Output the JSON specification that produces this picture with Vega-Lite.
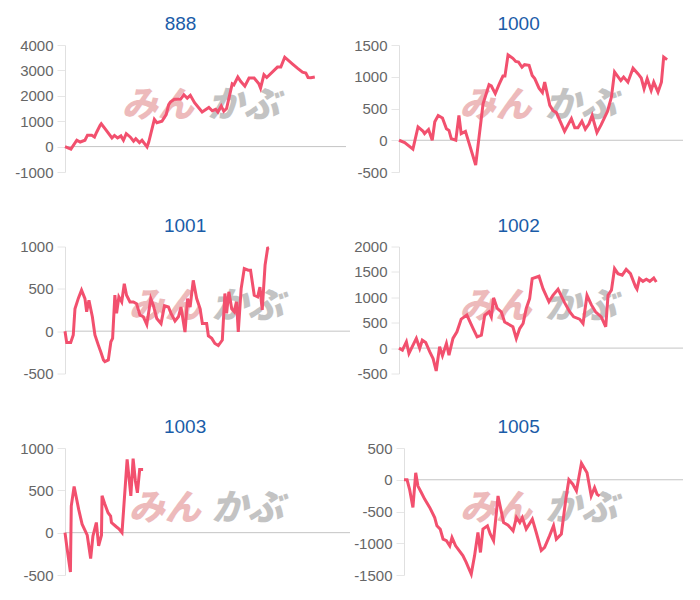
{
  "$schema": "https://vega.github.io/schema/vega-lite/v6.json",
  "padding": {"left": 14, "top": 15, "right": 5, "bottom": 5},
  "background": "white",
  "config": {
    "view": {"stroke": null},
    "font": "Liberation Sans",
    "title": {"fontSize": 19, "fontWeight": "normal", "color": "#1a5ca8", "font": "Liberation Sans", "offset": 4, "frame": "bounds", "anchor": "middle"},
    "axisY": {
      "gridColor": "#e6e6e6", "domainColor": "#e0e0e0", "tickColor": "#e6e6e6", "tickSize": 8,
      "labelColor": "#666666", "labelFontSize": 15, "labelFont": "Liberation Sans", "labelPadding": 4,
      "labelExpr": "toString(datum.value)"
    }
  },
  "datasets": {
    "s888": [
      {"t":0,"v":0},{"t":2.1,"v":-100},{"t":4.2,"v":250},{"t":5.4,"v":180},{"t":7.1,"v":250},{"t":8.0,"v":450},{"t":9.5,"v":450},{"t":10.5,"v":380},{"t":11.3,"v":575},{"t":12.5,"v":840},{"t":12.9,"v":900},{"t":14.3,"v":700},{"t":16.7,"v":340},{"t":17.6,"v":440},{"t":18.7,"v":340},{"t":19.9,"v":420},{"t":20.8,"v":250},{"t":21.8,"v":510},{"t":23.2,"v":380},{"t":24.4,"v":210},{"t":25.2,"v":310},{"t":26.5,"v":160},{"t":27.4,"v":250},{"t":29.2,"v":-10},{"t":29.8,"v":180},{"t":31.8,"v":1070},{"t":32.7,"v":940},{"t":34.5,"v":1000},{"t":36.0,"v":1260},{"t":36.9,"v":1650},{"t":37.5,"v":1750},{"t":38.9,"v":1860},{"t":41.1,"v":1860},{"t":42.3,"v":2040},{"t":43.5,"v":1910},{"t":44.6,"v":2020},{"t":46.1,"v":1730},{"t":48.8,"v":1360},{"t":51.2,"v":1540},{"t":52.4,"v":1410},{"t":53.6,"v":1470},{"t":54.4,"v":1360},{"t":55.6,"v":1600},{"t":56.5,"v":1390},{"t":57.5,"v":1500},{"t":59.5,"v":2470},{"t":60.1,"v":2430},{"t":61.5,"v":2740},{"t":62.5,"v":2570},{"t":64.0,"v":2380},{"t":65.5,"v":2700},{"t":67.3,"v":2700},{"t":69.0,"v":2470},{"t":69.6,"v":2300},{"t":70.8,"v":2830},{"t":71.8,"v":2720},{"t":75.6,"v":3130},{"t":76.8,"v":3130},{"t":78.2,"v":3520},{"t":81.0,"v":3250},{"t":82.7,"v":3090},{"t":84.5,"v":2930},{"t":85.7,"v":2900},{"t":86.5,"v":2720},{"t":87.5,"v":2710},{"t":88.9,"v":2740}
    ],
    "s1000": [
      {"t":0,"v":0},{"t":2.0,"v":-37},{"t":4.9,"v":-140},{"t":6.7,"v":210},{"t":8.5,"v":140},{"t":9.0,"v":105},{"t":10.4,"v":170},{"t":11.7,"v":0},{"t":12.6,"v":290},{"t":13.8,"v":390},{"t":15.3,"v":350},{"t":16.7,"v":180},{"t":17.6,"v":155},{"t":18.4,"v":25},{"t":20.0,"v":0},{"t":21.1,"v":390},{"t":21.9,"v":105},{"t":23.4,"v":140},{"t":27.0,"v":-390},{"t":29.6,"v":575},{"t":31.7,"v":875},{"t":32.5,"v":855},{"t":33.9,"v":735},{"t":35.2,"v":875},{"t":36.6,"v":1010},{"t":37.3,"v":1010},{"t":38.4,"v":1345},{"t":40.1,"v":1290},{"t":41.1,"v":1240},{"t":42.1,"v":1230},{"t":43.3,"v":1150},{"t":44.2,"v":1190},{"t":45.8,"v":1180},{"t":46.9,"v":1020},{"t":47.8,"v":970},{"t":49.3,"v":820},{"t":50.5,"v":750},{"t":51.3,"v":915},{"t":53.1,"v":550},{"t":54.2,"v":470},{"t":55.4,"v":435},{"t":58.3,"v":140},{"t":60.7,"v":340},{"t":61.9,"v":195},{"t":63.0,"v":195},{"t":64.4,"v":300},{"t":65.6,"v":175},{"t":66.9,"v":260},{"t":68.0,"v":390},{"t":69.7,"v":120},{"t":71.2,"v":245},{"t":73.4,"v":455},{"t":74.8,"v":680},{"t":75.9,"v":1075},{"t":78.1,"v":940},{"t":79.1,"v":995},{"t":80.6,"v":915},{"t":82.4,"v":1135},{"t":84.2,"v":1045},{"t":85.3,"v":980},{"t":86.3,"v":810},{"t":87.4,"v":970},{"t":88.8,"v":785},{"t":89.7,"v":915},{"t":91.2,"v":760},{"t":92.4,"v":915},{"t":93.2,"v":1310},{"t":94.4,"v":1270}
    ],
    "s1001": [
      {"t":0,"v":0},{"t":0.6,"v":-135},{"t":2.0,"v":-135},{"t":2.9,"v":-45},{"t":3.5,"v":265},{"t":4.7,"v":390},{"t":5.8,"v":485},{"t":7.0,"v":385},{"t":7.6,"v":230},{"t":8.4,"v":365},{"t":9.6,"v":170},{"t":10.5,"v":-45},{"t":11.7,"v":-165},{"t":12.6,"v":-250},{"t":13.5,"v":-340},{"t":14.0,"v":-360},{"t":15.2,"v":-340},{"t":16.1,"v":-125},{"t":16.7,"v":-85},{"t":17.5,"v":425},{"t":18.1,"v":210},{"t":18.9,"v":405},{"t":19.9,"v":345},{"t":20.8,"v":560},{"t":21.6,"v":425},{"t":22.8,"v":345},{"t":24.0,"v":345},{"t":25.1,"v":325},{"t":26.3,"v":190},{"t":27.5,"v":170},{"t":28.7,"v":80},{"t":30.1,"v":385},{"t":31.0,"v":305},{"t":32.2,"v":150},{"t":33.7,"v":90},{"t":34.9,"v":300},{"t":36.3,"v":285},{"t":37.2,"v":210},{"t":38.6,"v":120},{"t":39.8,"v":170},{"t":40.7,"v":285},{"t":42.1,"v":-10},{"t":43.0,"v":385},{"t":43.9,"v":285},{"t":45.0,"v":600},{"t":46.2,"v":385},{"t":47.4,"v":265},{"t":48.2,"v":90},{"t":49.7,"v":90},{"t":50.3,"v":-55},{"t":51.5,"v":-85},{"t":52.6,"v":-145},{"t":53.8,"v":-170},{"t":55.2,"v":-105},{"t":56.1,"v":445},{"t":56.7,"v":210},{"t":57.5,"v":465},{"t":58.5,"v":265},{"t":59.4,"v":230},{"t":60.2,"v":345},{"t":60.8,"v":-10},{"t":61.8,"v":500},{"t":62.9,"v":740},{"t":64.3,"v":720},{"t":65.1,"v":720},{"t":66.4,"v":425},{"t":67.6,"v":405},{"t":68.4,"v":520},{"t":69.2,"v":250},{"t":70.2,"v":780},{"t":71.1,"v":980},{"t":71.6,"v":985}
    ],
    "s1002": [
      {"t":0,"v":0},{"t":1.2,"v":-40},{"t":2.6,"v":125},{"t":3.5,"v":-105},{"t":6.1,"v":190},{"t":7.3,"v":-5},{"t":8.2,"v":155},{"t":9.4,"v":110},{"t":10.8,"v":-70},{"t":12.0,"v":-205},{"t":13.1,"v":-450},{"t":14.3,"v":25},{"t":15.3,"v":-150},{"t":16.7,"v":90},{"t":17.6,"v":-140},{"t":19.0,"v":190},{"t":20.4,"v":320},{"t":21.9,"v":570},{"t":23.9,"v":650},{"t":26.1,"v":385},{"t":27.5,"v":220},{"t":29.0,"v":255},{"t":30.2,"v":650},{"t":31.7,"v":715},{"t":32.5,"v":615},{"t":33.3,"v":990},{"t":34.6,"v":780},{"t":36.0,"v":715},{"t":37.2,"v":515},{"t":40.1,"v":420},{"t":41.3,"v":190},{"t":42.5,"v":385},{"t":43.7,"v":485},{"t":44.8,"v":780},{"t":46.0,"v":975},{"t":46.9,"v":1370},{"t":49.3,"v":1415},{"t":50.7,"v":1170},{"t":52.8,"v":910},{"t":54.2,"v":1040},{"t":56.0,"v":1160},{"t":58.3,"v":895},{"t":60.1,"v":715},{"t":61.5,"v":615},{"t":63.6,"v":570},{"t":64.8,"v":485},{"t":66.2,"v":1040},{"t":67.7,"v":855},{"t":69.2,"v":715},{"t":71.2,"v":615},{"t":72.8,"v":420},{"t":73.6,"v":1040},{"t":74.8,"v":1140},{"t":75.9,"v":1565},{"t":77.1,"v":1465},{"t":78.6,"v":1435},{"t":80.0,"v":1550},{"t":81.5,"v":1465},{"t":83.3,"v":1205},{"t":83.8,"v":1160},{"t":84.7,"v":1370},{"t":85.9,"v":1315},{"t":87.1,"v":1355},{"t":88.3,"v":1315},{"t":89.7,"v":1380},{"t":90.6,"v":1300}
    ],
    "s1003": [
      {"t":0,"v":0},{"t":0.6,"v":-155},{"t":1.9,"v":-465},{"t":2.2,"v":315},{"t":3.2,"v":545},{"t":4.8,"v":275},{"t":6.0,"v":100},{"t":7.8,"v":-30},{"t":9.0,"v":-305},{"t":9.8,"v":-40},{"t":11.0,"v":120},{"t":11.8,"v":-155},{"t":12.8,"v":-30},{"t":13.0,"v":435},{"t":13.9,"v":345},{"t":15.1,"v":235},{"t":16.0,"v":195},{"t":16.3,"v":120},{"t":18.0,"v":70},{"t":18.9,"v":45},{"t":20.0,"v":0},{"t":21.8,"v":865},{"t":23.1,"v":435},{"t":23.9,"v":875},{"t":24.7,"v":610},{"t":25.4,"v":470},{"t":26.2,"v":745},{"t":27.4,"v":745}
    ],
    "s1005": [
      {"t":0,"v":0},{"t":1.1,"v":0},{"t":2.0,"v":-150},{"t":3.2,"v":-435},{"t":4.2,"v":110},{"t":5.0,"v":-100},{"t":6.2,"v":-200},{"t":7.4,"v":-305},{"t":9.2,"v":-435},{"t":11.0,"v":-595},{"t":11.8,"v":-725},{"t":13.0,"v":-780},{"t":14.0,"v":-935},{"t":15.2,"v":-960},{"t":16.4,"v":-1040},{"t":17.2,"v":-910},{"t":18.5,"v":-1040},{"t":21.1,"v":-1195},{"t":22.3,"v":-1300},{"t":23.3,"v":-1405},{"t":24.1,"v":-1485},{"t":25.3,"v":-1195},{"t":26.5,"v":-830},{"t":27.4,"v":-1145},{"t":28.3,"v":-775},{"t":29.9,"v":-725},{"t":30.9,"v":-855},{"t":32.1,"v":-960},{"t":33.7,"v":-255},{"t":35.7,"v":-675},{"t":37.3,"v":-715},{"t":39.1,"v":-805},{"t":40.3,"v":-595},{"t":41.5,"v":-675},{"t":42.4,"v":-595},{"t":43.8,"v":-775},{"t":46.0,"v":-620},{"t":47.4,"v":-830},{"t":49.2,"v":-1115},{"t":50.4,"v":-1065},{"t":52.2,"v":-880},{"t":53.6,"v":-725},{"t":54.6,"v":-935},{"t":56.4,"v":-855},{"t":58.0,"v":-305},{"t":59.1,"v":0},{"t":60.5,"v":-70},{"t":61.8,"v":-175},{"t":63.6,"v":260},{"t":65.6,"v":110},{"t":67.1,"v":-255},{"t":68.3,"v":-125},{"t":69.2,"v":-230},{"t":70.1,"v":-255}
    ]
  },
  "columns": 2,
  "align": "none",
  "spacing": {"row": 36.5, "column": 2},
  "concat": [
    {
      "title": "888", "width": 281, "height": 127,
      "layer": [
        {"data": {"values": [{}]}, "mark": {"type": "rule", "color": "#c4c4c4"}, "encoding": {"y": {"datum": 0, "type": "quantitative", "scale": {"domain": [-1000, 4000], "nice": false}, "axis": {"values": [-1000, 0, 1000, 2000, 3000, 4000], "title": null}}}},
        {"data": {"values": [{}]}, "mark": {"type": "text", "text": "みん", "font": "Noto Sans CJK JP", "fontSize": 36, "fontWeight": 900, "fontStyle": "italic", "color": "#e9a9ab", "opacity": 0.8}, "encoding": {"x": {"datum": 33, "type": "quantitative", "scale": {"domain": [0, 100]}, "axis": null}, "y": {"datum": 1600, "type": "quantitative", "scale": {"domain": [-1000, 4000], "nice": false}, "axis": {"values": [-1000, 0, 1000, 2000, 3000, 4000], "title": null}}}},
        {"data": {"values": [{}]}, "mark": {"type": "text", "text": "かぶ", "font": "Noto Sans CJK JP", "fontSize": 36, "fontWeight": 900, "fontStyle": "italic", "color": "#b5b5b5", "opacity": 0.8}, "encoding": {"x": {"datum": 63.5, "type": "quantitative", "scale": {"domain": [0, 100]}, "axis": null}, "y": {"datum": 1600, "type": "quantitative", "scale": {"domain": [-1000, 4000], "nice": false}, "axis": {"values": [-1000, 0, 1000, 2000, 3000, 4000], "title": null}}}},
        {"data": {"name": "s888"}, "mark": {"type": "line", "color": "#f2506e", "strokeWidth": 3},
         "encoding": {"x": {"field": "t", "type": "quantitative", "scale": {"domain": [0, 100]}, "axis": null},
                      "y": {"field": "v", "type": "quantitative", "scale": {"domain": [-1000, 4000], "nice": false}, "axis": {"values": [-1000, 0, 1000, 2000, 3000, 4000], "title": null}}}}
      ]
    },
    {
      "title": "1000", "width": 284, "height": 127,
      "layer": [
        {"data": {"values": [{}]}, "mark": {"type": "rule", "color": "#c4c4c4"}, "encoding": {"y": {"datum": 0, "type": "quantitative", "scale": {"domain": [-500, 1500], "nice": false}, "axis": {"values": [-500, 0, 500, 1000, 1500], "title": null}}}},
        {"data": {"values": [{}]}, "mark": {"type": "text", "text": "みん", "font": "Noto Sans CJK JP", "fontSize": 36, "fontWeight": 900, "fontStyle": "italic", "color": "#e9a9ab", "opacity": 0.8}, "encoding": {"x": {"datum": 34, "type": "quantitative", "scale": {"domain": [0, 100]}, "axis": null}, "y": {"datum": 540, "type": "quantitative", "scale": {"domain": [-500, 1500], "nice": false}, "axis": {"values": [-500, 0, 500, 1000, 1500], "title": null}}}},
        {"data": {"values": [{}]}, "mark": {"type": "text", "text": "かぶ", "font": "Noto Sans CJK JP", "fontSize": 36, "fontWeight": 900, "fontStyle": "italic", "color": "#b5b5b5", "opacity": 0.8}, "encoding": {"x": {"datum": 64, "type": "quantitative", "scale": {"domain": [0, 100]}, "axis": null}, "y": {"datum": 540, "type": "quantitative", "scale": {"domain": [-500, 1500], "nice": false}, "axis": {"values": [-500, 0, 500, 1000, 1500], "title": null}}}},
        {"data": {"name": "s1000"}, "mark": {"type": "line", "color": "#f2506e", "strokeWidth": 3},
         "encoding": {"x": {"field": "t", "type": "quantitative", "scale": {"domain": [0, 100]}, "axis": null},
                      "y": {"field": "v", "type": "quantitative", "scale": {"domain": [-500, 1500], "nice": false}, "axis": {"values": [-500, 0, 500, 1000, 1500], "title": null}}}}
      ]
    },
    {
      "title": "1001", "width": 285, "height": 127,
      "layer": [
        {"data": {"values": [{}]}, "mark": {"type": "rule", "color": "#c4c4c4"}, "encoding": {"y": {"datum": 0, "type": "quantitative", "scale": {"domain": [-500, 1000], "nice": false}, "axis": {"values": [-500, 0, 500, 1000], "title": null}}}},
        {"data": {"values": [{}]}, "mark": {"type": "text", "text": "みん", "font": "Noto Sans CJK JP", "fontSize": 36, "fontWeight": 900, "fontStyle": "italic", "color": "#e9a9ab", "opacity": 0.8}, "encoding": {"x": {"datum": 35, "type": "quantitative", "scale": {"domain": [0, 100]}, "axis": null}, "y": {"datum": 280, "type": "quantitative", "scale": {"domain": [-500, 1000], "nice": false}, "axis": {"values": [-500, 0, 500, 1000], "title": null}}}},
        {"data": {"values": [{}]}, "mark": {"type": "text", "text": "かぶ", "font": "Noto Sans CJK JP", "fontSize": 36, "fontWeight": 900, "fontStyle": "italic", "color": "#b5b5b5", "opacity": 0.8}, "encoding": {"x": {"datum": 64, "type": "quantitative", "scale": {"domain": [0, 100]}, "axis": null}, "y": {"datum": 280, "type": "quantitative", "scale": {"domain": [-500, 1000], "nice": false}, "axis": {"values": [-500, 0, 500, 1000], "title": null}}}},
        {"data": {"name": "s1001"}, "mark": {"type": "line", "color": "#f2506e", "strokeWidth": 3},
         "encoding": {"x": {"field": "t", "type": "quantitative", "scale": {"domain": [0, 100]}, "axis": null},
                      "y": {"field": "v", "type": "quantitative", "scale": {"domain": [-500, 1000], "nice": false}, "axis": {"values": [-500, 0, 500, 1000], "title": null}}}}
      ]
    },
    {
      "title": "1002", "width": 284, "height": 127,
      "layer": [
        {"data": {"values": [{}]}, "mark": {"type": "rule", "color": "#c4c4c4"}, "encoding": {"y": {"datum": 0, "type": "quantitative", "scale": {"domain": [-500, 2000], "nice": false}, "axis": {"values": [-500, 0, 500, 1000, 1500, 2000], "title": null}}}},
        {"data": {"values": [{}]}, "mark": {"type": "text", "text": "みん", "font": "Noto Sans CJK JP", "fontSize": 36, "fontWeight": 900, "fontStyle": "italic", "color": "#e9a9ab", "opacity": 0.8}, "encoding": {"x": {"datum": 34, "type": "quantitative", "scale": {"domain": [0, 100]}, "axis": null}, "y": {"datum": 800, "type": "quantitative", "scale": {"domain": [-500, 2000], "nice": false}, "axis": {"values": [-500, 0, 500, 1000, 1500, 2000], "title": null}}}},
        {"data": {"values": [{}]}, "mark": {"type": "text", "text": "かぶ", "font": "Noto Sans CJK JP", "fontSize": 36, "fontWeight": 900, "fontStyle": "italic", "color": "#b5b5b5", "opacity": 0.8}, "encoding": {"x": {"datum": 64, "type": "quantitative", "scale": {"domain": [0, 100]}, "axis": null}, "y": {"datum": 800, "type": "quantitative", "scale": {"domain": [-500, 2000], "nice": false}, "axis": {"values": [-500, 0, 500, 1000, 1500, 2000], "title": null}}}},
        {"data": {"name": "s1002"}, "mark": {"type": "line", "color": "#f2506e", "strokeWidth": 3},
         "encoding": {"x": {"field": "t", "type": "quantitative", "scale": {"domain": [0, 100]}, "axis": null},
                      "y": {"field": "v", "type": "quantitative", "scale": {"domain": [-500, 2000], "nice": false}, "axis": {"values": [-500, 0, 500, 1000, 1500, 2000], "title": null}}}}
      ]
    },
    {
      "title": "1003", "width": 285, "height": 127,
      "layer": [
        {"data": {"values": [{}]}, "mark": {"type": "rule", "color": "#c4c4c4"}, "encoding": {"y": {"datum": 0, "type": "quantitative", "scale": {"domain": [-500, 1000], "nice": false}, "axis": {"values": [-500, 0, 500, 1000], "title": null}}}},
        {"data": {"values": [{}]}, "mark": {"type": "text", "text": "みん", "font": "Noto Sans CJK JP", "fontSize": 36, "fontWeight": 900, "fontStyle": "italic", "color": "#e9a9ab", "opacity": 0.8}, "encoding": {"x": {"datum": 35, "type": "quantitative", "scale": {"domain": [0, 100]}, "axis": null}, "y": {"datum": 280, "type": "quantitative", "scale": {"domain": [-500, 1000], "nice": false}, "axis": {"values": [-500, 0, 500, 1000], "title": null}}}},
        {"data": {"values": [{}]}, "mark": {"type": "text", "text": "かぶ", "font": "Noto Sans CJK JP", "fontSize": 36, "fontWeight": 900, "fontStyle": "italic", "color": "#b5b5b5", "opacity": 0.8}, "encoding": {"x": {"datum": 64, "type": "quantitative", "scale": {"domain": [0, 100]}, "axis": null}, "y": {"datum": 280, "type": "quantitative", "scale": {"domain": [-500, 1000], "nice": false}, "axis": {"values": [-500, 0, 500, 1000], "title": null}}}},
        {"data": {"name": "s1003"}, "mark": {"type": "line", "color": "#f2506e", "strokeWidth": 3},
         "encoding": {"x": {"field": "t", "type": "quantitative", "scale": {"domain": [0, 100]}, "axis": null},
                      "y": {"field": "v", "type": "quantitative", "scale": {"domain": [-500, 1000], "nice": false}, "axis": {"values": [-500, 0, 500, 1000], "title": null}}}}
      ]
    },
    {
      "title": "1005", "width": 279, "height": 127,
      "layer": [
        {"data": {"values": [{}]}, "mark": {"type": "rule", "color": "#c4c4c4"}, "encoding": {"y": {"datum": 0, "type": "quantitative", "scale": {"domain": [-1500, 500], "nice": false}, "axis": {"values": [-1500, -1000, -500, 0, 500], "title": null}}}},
        {"data": {"values": [{}]}, "mark": {"type": "text", "text": "みん", "font": "Noto Sans CJK JP", "fontSize": 36, "fontWeight": 900, "fontStyle": "italic", "color": "#e9a9ab", "opacity": 0.8}, "encoding": {"x": {"datum": 33, "type": "quantitative", "scale": {"domain": [0, 100]}, "axis": null}, "y": {"datum": -460, "type": "quantitative", "scale": {"domain": [-1500, 500], "nice": false}, "axis": {"values": [-1500, -1000, -500, 0, 500], "title": null}}}},
        {"data": {"values": [{}]}, "mark": {"type": "text", "text": "かぶ", "font": "Noto Sans CJK JP", "fontSize": 36, "fontWeight": 900, "fontStyle": "italic", "color": "#b5b5b5", "opacity": 0.8}, "encoding": {"x": {"datum": 63.5, "type": "quantitative", "scale": {"domain": [0, 100]}, "axis": null}, "y": {"datum": -460, "type": "quantitative", "scale": {"domain": [-1500, 500], "nice": false}, "axis": {"values": [-1500, -1000, -500, 0, 500], "title": null}}}},
        {"data": {"name": "s1005"}, "mark": {"type": "line", "color": "#f2506e", "strokeWidth": 3},
         "encoding": {"x": {"field": "t", "type": "quantitative", "scale": {"domain": [0, 100]}, "axis": null},
                      "y": {"field": "v", "type": "quantitative", "scale": {"domain": [-1500, 500], "nice": false}, "axis": {"values": [-1500, -1000, -500, 0, 500], "title": null}}}}
      ]
    }
  ]
}
